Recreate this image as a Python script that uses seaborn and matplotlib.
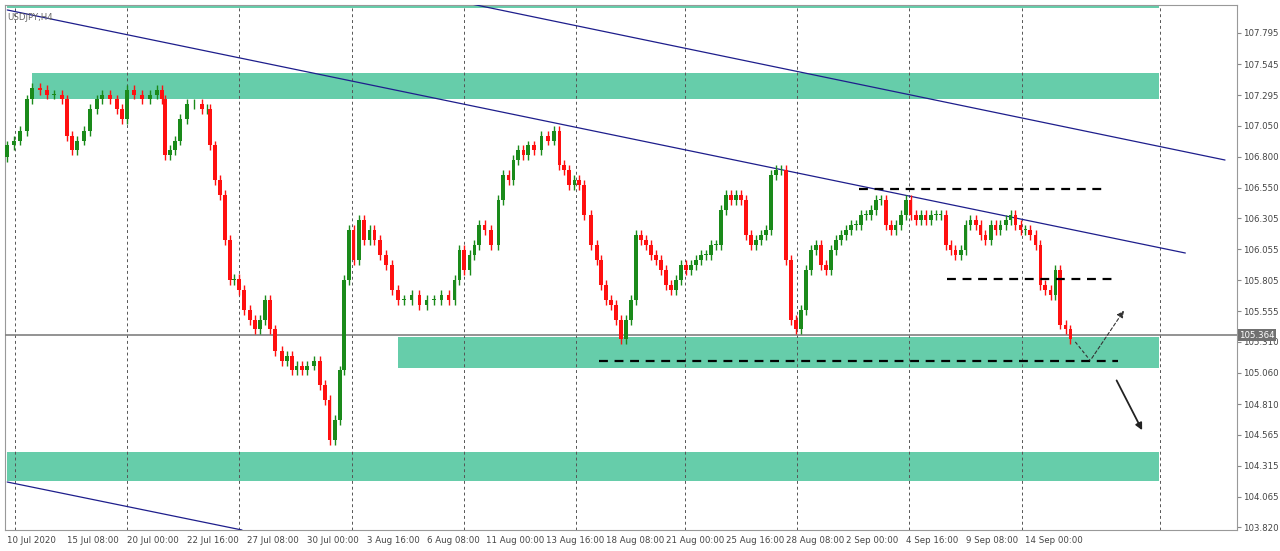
import numpy as np
import matplotlib
matplotlib.use("Agg")
import matplotlib.pyplot as plt
import seaborn as sns

# time positions (H4 bar number) and close prices
bars = [0,1.9,3.5,5.3,6.7,8.8,10.7,12.5,14.7,16,17.3,18.7,20.5,22.1,24,25.3,27.5,29.3,30.7,32,
        33.9,36,38.1,40,41.3,42.1,43.5,44.8,46.1,48,49.9,52,53.3,54.1,55.5,56.8,58.1,59.5,60.5,61.9,
        63.2,64.8,66.1,67.5,68.8,70.1,71.5,73.3,74.7,76,77.3,78.7,80,81.9,83.5,84.8,86.1,87.5,88.8,89.9,
        91.2,92.5,93.9,95.2,96.8,98.1,99.5,101.1,102.7,104.3,105.9,108,110.1,112,113.9,116,117.9,119.5,120.8,122.1,
        123.5,124.8,126.1,127.5,129.3,131.2,132.5,133.9,135.2,136.5,137.9,139.2,140.8,142.7,144.5,146.1,147.5,148.8,150.1,151.5,
        152.8,154.1,156,157.6,158.7,160,161.3,162.7,164,165.3,166.7,168,169.3,170.7,172,173.3,174.7,176,177.3,178.7,
        180,181.3,182.7,184,185.3,186.7,188,189.3,190.7,192,193.3,194.7,196,197.3,198.7,200,201.3,202.7,204,205.3,
        206.7,208,209.3,210.7,212,213.3,214.7,216,217.3,218.7,220,221.3,222.7,224,225.3,226.7,228,229.3,230.7,232,
        233.3,234.7,236,237.3,238.7,240,241.3,242.7,244,245.3,246.7,248,249.3,250.7,252,253.3,254.7,256,257.3,258.7,
        260,261.3,262.7,264,265.3,266.7,268,269.3,270.7,272,273.3,274.7,276,277.3,278.7,280,281.3,282.7,284]
closes = [106.89,106.93,107.01,107.26,107.35,107.34,107.30,107.30,107.26,106.97,106.85,106.93,107.01,107.18,107.26,107.30,107.26,107.18,107.10,107.34,
          107.30,107.26,107.30,107.34,107.26,106.81,106.85,106.93,107.10,107.22,107.22,107.18,107.18,106.89,106.61,106.49,106.13,105.81,105.82,105.73,
          105.57,105.49,105.41,105.49,105.65,105.41,105.24,105.16,105.20,105.08,105.12,105.08,105.12,105.16,104.96,104.84,104.52,104.68,105.08,105.81,
          106.21,105.97,106.29,106.13,106.21,106.13,106.01,105.93,105.73,105.65,105.65,105.69,105.61,105.65,105.65,105.69,105.65,105.81,106.05,105.89,
          106.01,106.09,106.25,106.21,106.09,106.45,106.65,106.61,106.77,106.85,106.81,106.89,106.85,106.97,106.93,107.01,106.73,106.69,106.57,106.61,
          106.57,106.33,106.09,105.97,105.77,105.65,105.61,105.49,105.33,105.49,105.65,106.17,106.13,106.09,106.01,105.97,105.89,105.77,105.73,105.81,
          105.93,105.89,105.93,105.97,106.01,106.01,106.09,106.09,106.37,106.49,106.45,106.49,106.45,106.17,106.09,106.13,106.17,106.21,106.65,106.69,
          106.69,105.97,105.49,105.41,105.57,105.89,106.05,106.09,105.93,105.89,106.05,106.13,106.17,106.21,106.25,106.25,106.33,106.33,106.37,106.45,
          106.45,106.25,106.21,106.25,106.33,106.45,106.33,106.29,106.33,106.29,106.33,106.33,106.33,106.09,106.05,106.01,106.05,106.25,106.29,106.25,
          106.17,106.13,106.25,106.21,106.25,106.29,106.33,106.25,106.21,106.21,106.17,106.09,105.77,105.73,105.69,105.89,105.45,105.41,105.33]
first_open = 106.80

tick_pos = [0,16,32,48,64,80,96,112,128,144,160,176,192,208,224,240,256,272]
tick_labels = ["10 Jul 2020","15 Jul 08:00","20 Jul 00:00","22 Jul 16:00","27 Jul 08:00","30 Jul 00:00",
               "3 Aug 16:00","6 Aug 08:00","11 Aug 00:00","13 Aug 16:00","18 Aug 08:00","21 Aug 00:00",
               "25 Aug 16:00","28 Aug 08:00","2 Sep 00:00","4 Sep 16:00","9 Sep 08:00","14 Sep 00:00"]
grid_pos = [2,32,62,92,122,152,181,211,241,271,308]
price_ticks = [107.795,107.545,107.295,107.050,106.800,106.550,106.305,106.055,105.805,105.555,
               105.310,105.060,104.810,104.565,104.315,104.065,103.820]
zones = [(0,307.7,107.996,108.03),(6.7,307.7,107.264,107.473),(104.5,307.7,105.10,105.35),(0,307.7,104.19,104.424)]
trend_lines = [((0,107.98),(314.7,106.025)),((122.7,108.036),(325.3,106.773)),((0,104.183),(62.7,103.797))]
levels = [(227.5,292.5,106.54),(251,296.8,105.816),(158,296.8,105.156)]
current = 105.364

sns.set_style("white")
plt.rcParams['font.family'] = ['DejaVu Sans']
fig = plt.figure(figsize=(12.8,5.51), dpi=100)
ax = fig.add_axes([5/1280, 21/551, 1232/1280, 525/551])
ax.set_xlim(-0.6, 328.5)
ax.set_ylim(103.797, 108.02)

for x0,x1,y0,y1 in zones:
    ax.fill_between([x0,x1],[y0,y0],[y1,y1], color="#66cdaa", lw=0, zorder=1)
for g in grid_pos:
    ax.axvline(g, color="#555555", lw=0.7, ls=(0,(3,3)), zorder=2)

opens = [first_open] + closes[:-1]
wick = 0.04
for b,o,c in zip(bars,opens,closes):
    col = "#1a8a1a" if c >= o else "#ff1010"
    ax.vlines(b, min(o,c)-wick, max(o,c)+wick, color=col, lw=1, zorder=4)
    ax.bar(b, max(abs(c-o),0.006), bottom=min(o,c), width=1.0, color=col, lw=0, zorder=5)

for (a,b) in trend_lines:
    ax.plot([a[0],b[0]],[a[1],b[1]], color="#1e1e8c", lw=0.9, zorder=3)
for x0,x1,y in levels:
    ax.plot([x0,x1],[y,y], color="black", lw=1.6, ls=(0,(4,3)), zorder=6)
ax.axhline(current, color="#808080", lw=1.2, zorder=3)

ax.plot([285.3,289.3],[105.31,105.16], color="#333333", lw=0.8, ls=(0,(3,2)), zorder=6)
ax.annotate("", xy=(298.7,105.58), xytext=(289.3,105.16),
            arrowprops=dict(arrowstyle="-|>", color="#333333", lw=0.8, ls=(0,(3,2))), zorder=6)
ax.annotate("", xy=(303.5,104.58), xytext=(296,105.02),
            arrowprops=dict(arrowstyle="-|>", color="#222222", lw=1.3), zorder=6)

ax.yaxis.tick_right()
ax.set_yticks(price_ticks)
ax.set_yticklabels([f"{p:.3f}" for p in price_ticks], fontsize=6.2, color="#444444")
ax.set_xticks(tick_pos)
ax.set_xticklabels(tick_labels, fontsize=6.2, color="#444444", ha="left")
ax.tick_params(axis="both", length=3, color="#888888", pad=1.5)
for s in ax.spines.values():
    s.set_color("#999999"); s.set_linewidth(0.8)
ax.text(0.002, 0.985, "USDJPY,H4", transform=ax.transAxes, fontsize=6.2, color="#666666", va="top")
ax.text(1.002, current, "105.364", transform=ax.get_yaxis_transform(), fontsize=6.2, color="white",
        va="center", ha="left", bbox=dict(boxstyle="square,pad=0.15", fc="#707070", ec="none"))
fig.savefig("out.png", dpi=100)
